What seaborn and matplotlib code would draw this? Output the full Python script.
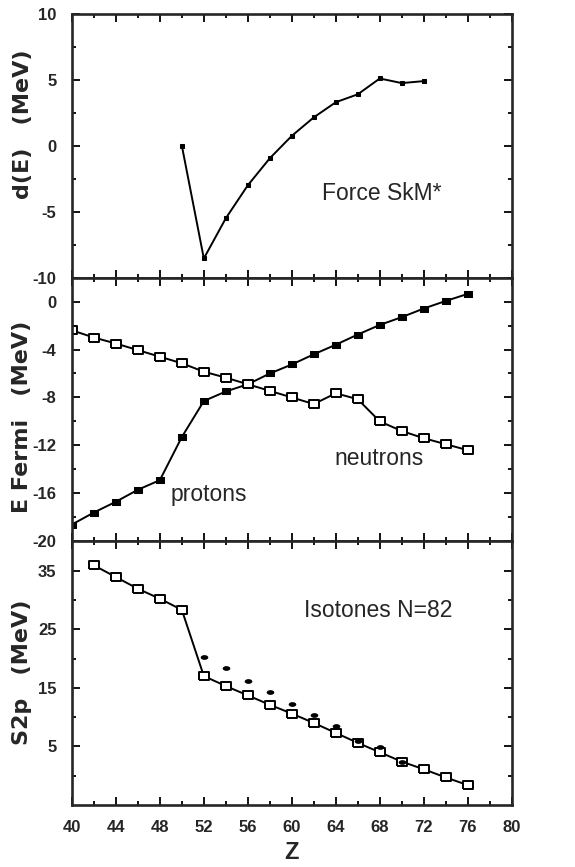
import numpy as np
import seaborn as sns
import pandas as pd
from matplotlib import pyplot as plt
from matplotlib.ticker import MultipleLocator, FixedLocator

# d(E) for force SkM*
z_de = [50, 52, 54, 56, 58, 60, 62, 64, 66, 68, 70, 72]
de = [0.0, -8.55, -5.5, -3.0, -0.95, 0.75, 2.15, 3.3, 3.9, 5.1, 4.75, 4.9]

# Fermi energies
z_fermi = [40, 42, 44, 46, 48, 50, 52, 54, 56, 58, 60, 62, 64, 66, 68, 70, 72, 74, 76]
e_protons = [-18.6, -17.6, -16.7, -15.7, -14.9, -11.3, -8.3, -7.5, -6.9, -6.0,
             -5.25, -4.4, -3.6, -2.75, -1.95, -1.3, -0.58, 0.05, 0.64]
e_neutrons = [-2.4, -3.0, -3.5, -4.05, -4.6, -5.15, -5.85, -6.35, -6.9, -7.45,
              -8.0, -8.55, -7.65, -8.15, -10.0, -10.8, -11.4, -11.9, -12.4]

# two-proton separation energies, isotones N=82
z_s2p = [42, 44, 46, 48, 50, 52, 54, 56, 58, 60, 62, 64, 66, 68, 70, 72, 74, 76]
s2p_calc = [35.9, 33.9, 31.9, 30.2, 28.3, 17.0, 15.3, 13.7, 12.1, 10.6,
            9.0, 7.3, 5.6, 4.0, 2.4, 1.1, -0.3, -1.6]
z_s2p_exp = [52, 54, 56, 58, 60, 62, 64, 66, 68, 70]
s2p_exp = [20.2, 18.4, 16.2, 14.2, 12.3, 10.4, 8.4, 6.0, 4.9, 2.4]

x_ticks = [40, 44, 48, 52, 56, 60, 64, 68, 72, 76, 80]

sns.set_style('ticks')
plt.rcParams['font.family'] = ['Liberation Sans', 'DejaVu Sans']
plt.rcParams['axes.unicode_minus'] = False

rect = [(-1.45, -1), (1.45, -1), (1.45, 1), (-1.45, 1), (-1.45, -1)]
t = np.linspace(0, 2 * np.pi, 40)
ellipse = np.column_stack([1.6 * np.cos(t), np.sin(t)])

fig, axes = plt.subplots(3, 1, sharex=True, figsize=(5.75, 8.67), dpi=100)
fig.subplots_adjust(left=0.125, right=0.89, top=0.984, bottom=0.0715, hspace=0)
ax1, ax2, ax3 = axes

ylab_font = dict(family='DejaVu Sans', fontsize=16, fontweight='bold')

# top panel
sns.lineplot(x=z_de, y=de, ax=ax1, color='black', lw=1.4, marker='s',
             markersize=3.5, markerfacecolor='black', markeredgecolor='black')
ax1.text(62.7, -3.6, 'Force SkM*', fontsize=16.5, va='center', ha='left')
ax1.set_ylim(-10, 10)
ax1.yaxis.set_major_locator(FixedLocator([-10, -5, 0, 5, 10]))
ax1.yaxis.set_minor_locator(MultipleLocator(2.5))
ax1.set_ylabel('d(E)   (MeV)', **ylab_font)
ax1.yaxis.set_label_coords(-0.089, 0.583)

# middle panel
sns.lineplot(x=z_fermi, y=e_protons, ax=ax2, color='black', lw=1.4, marker=rect,
             markersize=6, markerfacecolor='black', markeredgecolor='black')
sns.lineplot(x=z_fermi, y=e_neutrons, ax=ax2, color='black', lw=1.4, marker=rect,
             markersize=7.5, markerfacecolor='white', markeredgecolor='black',
             markeredgewidth=1.4)
ax2.text(49.0, -16.1, 'protons', fontsize=16.5, va='center', ha='left')
ax2.text(63.9, -13.1, 'neutrons', fontsize=16.5, va='center', ha='left')
ax2.set_ylim(-20, 2)
ax2.yaxis.set_major_locator(FixedLocator([-20, -16, -12, -8, -4, 0]))
ax2.yaxis.set_minor_locator(MultipleLocator(2))
ax2.set_ylabel('E Fermi   (MeV)', **ylab_font)
ax2.yaxis.set_label_coords(-0.091, 0.473)

# bottom panel
sns.lineplot(x=z_s2p, y=s2p_calc, ax=ax3, color='black', lw=1.4, marker=rect,
             markersize=7.5, markerfacecolor='white', markeredgecolor='black',
             markeredgewidth=1.4, zorder=2)
sns.scatterplot(x=z_s2p_exp, y=s2p_exp, ax=ax3, color='black', marker=ellipse,
                s=30, linewidth=0, zorder=3)
ax3.text(61.1, 28.2, 'Isotones N=82', fontsize=16.5, va='center', ha='left')
ax3.set_ylim(-5, 40)
ax3.yaxis.set_major_locator(FixedLocator([5, 15, 25, 35]))
ax3.yaxis.set_minor_locator(FixedLocator([0, 10, 20, 30]))
ax3.set_ylabel('S2p   (MeV)', **ylab_font)
ax3.yaxis.set_label_coords(-0.091, 0.502)
ax3.set_xlabel('Z', fontsize=17, fontweight='bold', labelpad=4)

ax3.set_xlim(40, 80)
ax3.xaxis.set_major_locator(FixedLocator(x_ticks))
ax3.xaxis.set_minor_locator(MultipleLocator(2))

for ax in axes:
    for sp in ax.spines.values():
        sp.set_linewidth(1.9)
        sp.set_visible(True)
    ax.tick_params(which='both', direction='in', top=True, right=True,
                   color='black', width=1.3)
    ax.tick_params(which='major', length=6, labelsize=12)
    ax.tick_params(axis='y', which='major', pad=11)
    ax.tick_params(axis='x', which='major', pad=11)
    ax.tick_params(which='minor', length=3)
    for lab in ax.get_yticklabels():
        lab.set_fontweight('bold')

for lab in ax3.get_xticklabels():
    lab.set_fontweight('bold')

fig.savefig('out.png', dpi=100)
